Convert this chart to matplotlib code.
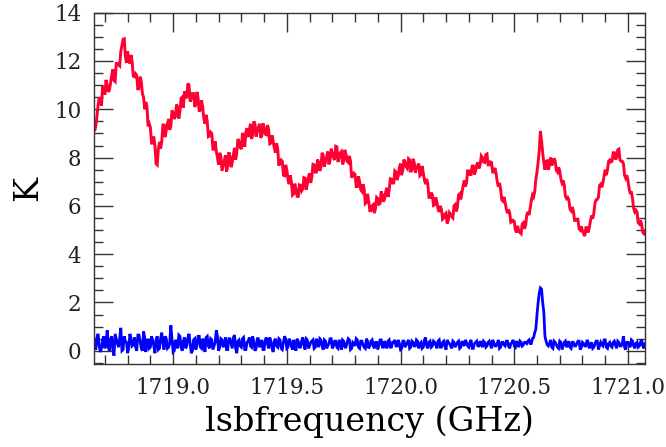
import numpy as np
import matplotlib
matplotlib.use("Agg")
import matplotlib.pyplot as plt
from matplotlib.ticker import MultipleLocator, FormatStrFormatter

# Channel frequencies (GHz): main channels every 0.01 GHz, plus half-step channels
freq_start, freq_end = 1718.65, 1721.08

# Upper (red) spectrum, K, at main channels
red_k = [
    9.5, 9.3, 10.15, 10.3, 10.95, 10.6, 11.0, 10.8, 11.4, 11.2,
    11.9, 11.85, 12.4, 12.9, 12.2, 12.4, 11.9, 11.95, 11.35, 11.4,
    10.9, 11.15, 10.5, 10.3, 9.3, 9.25, 8.6, 8.5, 7.7, 8.65,
    8.65, 9.35, 9.15, 9.6, 9.3, 9.85, 9.7, 10.1, 9.9, 10.5,
    10.75, 10.5, 11.0, 10.45, 10.65, 10.2, 10.45, 10.0, 10.1, 9.4,
    9.5, 8.9, 9.0, 8.35, 8.25, 7.7, 8.05, 7.65, 8.1, 7.65,
    8.05, 7.8, 8.4, 8.2, 8.65, 8.35, 8.85, 9.05, 8.85, 9.4,
    8.95, 9.4, 9.1, 9.4, 8.9, 9.25, 8.95, 9.15, 8.6, 8.65,
    8.2, 8.35, 7.8, 7.85, 7.25, 7.5, 6.9, 7.0, 6.5, 6.7,
    6.35, 6.85, 6.7, 7.15, 6.9, 7.35, 7.2, 7.7, 7.4, 7.8,
    7.6, 8.1, 7.85, 8.25, 7.9, 8.2, 7.9, 8.45, 8.0, 8.25,
    7.85, 8.15, 7.8, 7.85, 7.25, 7.3, 6.8, 7.0, 6.6, 6.7,
    6.15, 6.2, 5.8, 6.05, 5.9, 6.3, 6.1, 6.45, 6.3, 6.75,
    6.65, 7.1, 6.95, 7.4, 7.25, 7.75, 7.5, 7.8, 7.55, 7.9,
    7.5, 7.8, 7.55, 7.75, 7.3, 7.35, 6.9, 6.9, 6.35, 6.45,
    6.05, 6.15, 5.75, 5.85, 5.5, 5.7, 5.4, 5.65, 5.5, 6.05,
    5.95, 6.5, 6.55, 7.05, 6.95, 7.45, 7.3, 7.65, 7.45, 7.8,
    7.7, 8.0, 7.8, 8.15, 7.7, 7.8, 7.4, 7.35, 6.8, 6.7,
    6.2, 6.15, 5.7, 5.7, 5.35, 5.35, 4.9, 4.95, 4.85, 5.3,
    5.2, 5.75, 5.9, 6.45, 6.6, 7.4, 8.3, 8.7, 7.8, 7.85,
    7.5, 8.0, 7.8, 7.85, 7.4, 7.45, 6.95, 6.85, 6.3, 6.25,
    5.8, 5.8, 5.4, 5.45, 5.0, 4.95, 4.75, 5.1, 5.1, 5.6,
    5.7, 6.25, 6.35, 6.9, 6.95, 7.5, 7.5, 7.9, 7.85, 8.2,
    8.0, 8.35, 7.85, 7.75, 7.15, 7.05, 6.5, 6.3, 5.75, 5.75,
    5.25, 5.25, 4.85, 4.8,
]

# Upper (red) spectrum, K, at half-step channels
red_k_half = [
    9.1, 9.7, 10.5, 10.15, 10.85, 11.22, 10.72, 11.1, 11.65, 11.15,
    11.9, 11.8, 12.65, 12.92, 11.92, 12.0, 12.25, 11.37, 11.47, 10.8,
    11.35, 10.65, 10.0, 10.12, 9.4, 8.6, 8.87, 7.75, 8.35, 8.37,
    9.35, 8.85, 9.4, 9.15, 9.95, 9.6, 10.2, 9.62, 10.45, 10.07,
    10.5, 11.07, 10.32, 10.65, 10.1, 10.72, 9.9, 10.37, 9.62, 9.77,
    8.87, 9.05, 8.35, 8.67, 8.0, 8.2, 7.45, 7.87, 7.42, 8.22,
    7.6, 8.12, 7.92, 8.77, 8.42, 9.02, 8.45, 9.22, 9.1, 8.77,
    9.5, 8.87, 9.25, 8.82, 9.42, 8.97, 9.35, 8.57, 8.92, 8.4,
    8.6, 7.67, 7.9, 7.27, 7.7, 7.1, 7.27, 6.45, 6.92, 6.42,
    6.87, 6.62, 7.17, 6.67, 7.2, 6.95, 7.72, 7.4, 7.92, 7.45,
    8.2, 7.62, 8.02, 7.72, 8.37, 8.0, 8.47, 7.82, 8.2, 7.72,
    8.32, 7.85, 8.07, 7.17, 7.35, 6.8, 7.22, 6.67, 6.9, 6.1,
    6.5, 5.8, 6.0, 5.7, 6.35, 6.07, 6.6, 6.17, 6.6, 6.37,
    7.12, 6.95, 7.45, 7.07, 7.6, 7.27, 7.92, 7.62, 7.95, 7.4,
    7.95, 7.37, 7.65, 7.25, 7.65, 7.07, 7.12, 6.35, 6.55, 6.02,
    6.35, 5.87, 6.0, 5.45, 5.65, 5.27, 5.72, 5.55, 6.0, 5.77,
    6.45, 6.27, 6.82, 6.8, 7.45, 7.3, 7.65, 7.3, 7.7, 7.55,
    8.07, 7.82, 8.12, 7.7, 7.82, 7.4, 7.57, 7.02, 6.95, 6.25,
    6.37, 5.87, 5.85, 5.32, 5.4, 5.0, 5.17, 4.9, 5.25, 5.05,
    5.62, 5.62, 6.22, 6.37, 7.1, 7.8, 9.1, 8.2, 7.5, 7.87,
    7.7, 7.67, 7.97, 7.47, 7.6, 7.12, 7.05, 6.4, 6.35, 5.87,
    5.95, 5.4, 5.45, 5.05, 5.15, 4.85, 5.1, 4.9, 5.37, 5.47,
    6.12, 6.27, 6.85, 6.77, 7.25, 7.27, 7.85, 7.82, 8.2, 7.92,
    8.32, 7.9, 7.85, 7.27, 7.27, 6.72, 6.6, 5.9, 5.82, 5.3,
    5.4, 4.9, 4.95,
]

# Lower (blue) spectrum, K, at main channels
blue_k = [
    0.55, 0.05, 0.7, -0.05, 0.45, 0.1, 0.85, 0.0, 0.6, -0.2,
    0.5, 0.15, 0.95, 0.05, 0.4, -0.1, 0.7, 0.2, 0.55, 0.0,
    0.65, 0.1, 0.8, -0.05, 0.5, 0.15, 0.45, -0.1, 0.6, 0.1,
    0.75, 0.05, 0.5, 0.15, 1.05, -0.05, 0.45, 0.1, 0.6, 0.0,
    0.55, 0.2, 0.7, -0.1, 0.45, 0.05, 0.6, 0.15, 0.5, -0.05,
    0.6, 0.1, 0.45, 0.2, 0.85, 0.0, 0.5, 0.15, 0.55, 0.05,
    0.5, 0.1, 0.65, -0.1, 0.45, 0.15, 0.55, 0.05, 0.4, 0.2,
    0.6, 0.0, 0.5, 0.15, 0.45, 0.05, 0.55, 0.1, 0.4, -0.05,
    0.5, 0.15, 0.45, 0.05, 0.6, 0.1, 0.5, 0.2, 0.45, 0.0,
    0.4, 0.15, 0.55, 0.05, 0.45, 0.2, 0.4, 0.1, 0.5, 0.15,
    0.45, 0.05, 0.4, 0.2, 0.5, 0.1, 0.4, 0.15, 0.45, 0.05,
    0.4, 0.15, 0.5, 0.05, 0.35, 0.2, 0.45, 0.1, 0.4, 0.15,
    0.5, 0.1, 0.4, 0.2, 0.35, 0.05, 0.45, 0.15, 0.4, 0.1,
    0.45, 0.15, 0.35, 0.2, 0.45, 0.05, 0.4, 0.15, 0.35, 0.1,
    0.4, 0.2, 0.45, 0.1, 0.35, 0.15, 0.55, 0.1, 0.4, 0.2,
    0.35, 0.1, 0.45, 0.15, 0.4, 0.05, 0.35, 0.2, 0.4, 0.15,
    0.35, 0.1, 0.4, 0.2, 0.35, 0.15, 0.45, 0.1, 0.35, 0.2,
    0.4, 0.15, 0.35, 0.2, 0.4, 0.1, 0.35, 0.2, 0.45, 0.15,
    0.35, 0.2, 0.4, 0.1, 0.35, 0.2, 0.4, 0.15, 0.35, 0.25,
    0.35, 0.4, 0.3, 0.5, 0.75, 1.5, 2.4, 2.55, 1.6, 0.4,
    0.2, 0.45, 0.1, 0.35, 0.15, 0.4, 0.05, 0.35, 0.15, 0.4,
    0.1, 0.35, 0.2, 0.4, 0.05, 0.35, 0.2, 0.45, 0.1, 0.35,
    0.15, 0.4, 0.05, 0.35, 0.2, 0.45, 0.1, 0.35, 0.15, 0.4,
    0.1, 0.35, 0.2, 0.6, 0.05, 0.35, 0.15, 0.4, 0.1, 0.35,
    0.2, 0.45, 0.1, 0.3,
]

# Lower (blue) spectrum, K, at half-step channels
blue_k_half = [
    0.35, 0.55, 0.2, 0.1, 0.6, 0.3, 0.15, 0.5, 0.05, 0.7,
    0.3, 0.5, 0.0, 0.6, 0.35, 0.1, 0.5, 0.25, 0.15, 0.65,
    0.4, 0.0, 0.55, 0.3, 0.1, 0.6, 0.2, 0.45, 0.05, 0.5,
    0.35, 0.6, 0.1, 0.3, 0.5, 0.0, 0.35, 0.65, 0.15, 0.4,
    0.1, 0.55, 0.3, 0.0, 0.5, 0.25, 0.6, 0.1, 0.4, 0.55,
    0.2, 0.5, 0.05, 0.35, 0.6, 0.15, 0.45, 0.25, 0.05, 0.5,
    0.3, 0.55, 0.1, 0.4, 0.2, 0.5, 0.05, 0.35, 0.55, 0.15,
    0.35, 0.1, 0.5, 0.25, 0.05, 0.45, 0.3, 0.55, 0.1, 0.4,
    0.2, 0.5, 0.1, 0.35, 0.5, 0.15, 0.4, 0.05, 0.3, 0.5,
    0.15, 0.4, 0.25, 0.5, 0.1, 0.35, 0.45, 0.15, 0.3, 0.5,
    0.2, 0.45, 0.1, 0.3, 0.5, 0.2, 0.4, 0.1, 0.35, 0.45,
    0.15, 0.35, 0.45, 0.1, 0.3, 0.5, 0.15, 0.4, 0.25, 0.1,
    0.4, 0.2, 0.45, 0.1, 0.35, 0.25, 0.45, 0.15, 0.3, 0.4,
    0.15, 0.35, 0.45, 0.2, 0.3, 0.1, 0.4, 0.25, 0.45, 0.15,
    0.35, 0.2, 0.4, 0.3, 0.1, 0.45, 0.2, 0.35, 0.15, 0.4,
    0.25, 0.4, 0.15, 0.35, 0.2, 0.45, 0.3, 0.1, 0.35, 0.25,
    0.4, 0.15, 0.3, 0.45, 0.2, 0.35, 0.1, 0.3, 0.4, 0.2,
    0.3, 0.4, 0.15, 0.35, 0.25, 0.45, 0.2, 0.3, 0.1, 0.35,
    0.25, 0.4, 0.2, 0.3, 0.45, 0.15, 0.3, 0.4, 0.2, 0.35,
    0.3, 0.45, 0.3, 0.55, 0.9, 2.0, 2.6, 2.0, 0.6, 0.25,
    0.3, 0.15, 0.4, 0.25, 0.1, 0.35, 0.2, 0.4, 0.25, 0.15,
    0.35, 0.2, 0.3, 0.4, 0.15, 0.3, 0.2, 0.35, 0.25, 0.1,
    0.3, 0.4, 0.2, 0.25, 0.45, 0.15, 0.3, 0.2, 0.35, 0.25,
    0.4, 0.2, 0.3, 0.15, 0.35, 0.25, 0.45, 0.2, 0.3, 0.15,
    0.35, 0.2, 0.3,
]

x_label = "lsbfrequency (GHz)"
y_label = "K"


def merge(main, half):
    out = np.empty(len(main) + len(half))
    out[0::2] = main
    out[1::2] = half
    return out


red_all = merge(red_k, red_k_half)
blue_all = merge(blue_k, blue_k_half)
freq = np.linspace(freq_start, freq_end, len(red_all))

plt.rcParams["font.family"] = ["DejaVu Serif"]

fig = plt.figure(figsize=(6.66, 4.47), dpi=100)
ax = fig.add_axes([0.1411, 0.185, 0.8274, 0.7866])

ax.plot(freq, red_all, color="#ff0033", lw=2.1, solid_joinstyle="miter")
ax.plot(freq, blue_all, color="#0000ff", lw=2.0, solid_joinstyle="miter")

ax.set_xlim(1718.652, 1721.075)
ax.set_ylim(-0.56, 14.0)

ax.xaxis.set_major_locator(MultipleLocator(0.5))
ax.xaxis.set_minor_locator(MultipleLocator(0.1))
ax.yaxis.set_major_locator(MultipleLocator(2))
ax.yaxis.set_minor_locator(MultipleLocator(0.5))
ax.xaxis.set_major_formatter(FormatStrFormatter("%.1f"))

ax.tick_params(which="both", direction="in", top=True, right=True,
               color="#333333", width=1.0, labelsize=15.5, labelcolor="#222222")
ax.tick_params(which="major", length=13.5, pad=9)
ax.tick_params(which="minor", length=6.8)
for s in ax.spines.values():
    s.set_color("#333333")
    s.set_linewidth(1.0)

ax.set_xlabel(x_label, fontsize=24, labelpad=5)
ax.set_ylabel(y_label, fontsize=24, labelpad=7)

fig.savefig("out.png", dpi=100)
